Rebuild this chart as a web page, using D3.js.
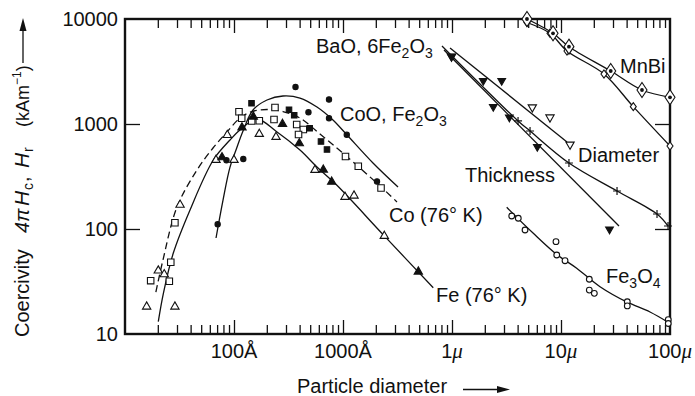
<!DOCTYPE html>
<html><head><meta charset="utf-8">
<script src="https://cdn.jsdelivr.net/npm/d3@7"></script>
<style>
html,body{margin:0;padding:0;background:#fff;}
svg{display:block;}
text{font-family:"Liberation Sans",Arial,sans-serif;fill:#111;}
</style></head><body>
<svg id="chart" width="695" height="396"></svg>
<script>
// ---------- DATA (x: particle diameter in Å, y: coercivity in kA/m) ----------
const xTickValues=[100,1000,1e4,1e5,1e6];
const xTickNums=["100","1000","1","10","100"];
const xTickUnits=["Å","Å","μ","μ","μ"];
const yTickValues=[10,100,1000,10000];
const yTickLabels=["10","100","1000","10000"];

const feCurve=[[20.2,13.1],[22.5,24.4],[27.7,58.7],[39.5,152],[64.6,454],[91.9,704],[113.5,877],[161.5,1116],[246.5,845],[403,565],[574,392],[875,262],[2393,86],[6730,27.6]];
const cooCurve=[[68.4,82.1],[79.3,188.8],[91.9,389],[104.3,565],[121,858],[149.4,1360],[200.8,1693],[281.6,1847],[403,1768],[577,1452],[809,1092],[1089,785],[1884,425],[3197,251]];
const coCurve=[[19.2,25.1],[22.3,50.7],[30.0,162],[45.8,365],[64.2,591],[86.2,839],[113.5,1140],[146.3,1315],[200.8,1374],[281.6,1315],[403,1140],[615,803],[1043,507],[2185,257],[3128,181]];
const baoCurveA=[[9590,5293],[113500,674]];
const baoDiameter=[[8091,5534],[40360,1069],[51990,858],[118300,425],[326600,230],[760000,139],[959000,106.8]];
const baoThickness=[[8450,5070],[340400,106.8]];
const mnbiUpper=[[48750,10000],[84500,7310],[118300,5450],[285800,3197],[553500,2108],[1e6,1796]];
const mnbiLower=[[48750,9260],[79250,7310],[113500,4958],[247900,2995],[460400,1462],[1e6,617]];
const fe3o4Curve=[[31770,161],[55700,91],[91400,57.2],[139300,42.3],[228000,28.2],[400600,20.2],[655600,16.2],[964000,12.9]];

const openTriangles=[[15.8,18.2],[28.7,18.2],[20.2,40.1],[22.9,37.0],[32.0,170],[86.8,785],[68.4,454],[100,454],[170.6,803],[242.9,752],[553,365],[1043,202],[1262,207.6],[2393,85.8]];
const openSquares=[[17.2,32.2],[25.5,31.8],[26.3,48.2],[28.7,114.8],[111.1,1310],[117.7,1133],[145.3,1069],[170.6,1075],[237.7,1436],[232.8,1104],[376,989],[432.5,887],[390.8,794],[1054,490],[1381,396],[2233,245.7]];
const filledCircles=[[70.8,110.9],[85.3,451],[121.7,464],[366.7,2250],[744,1711],[482,1292],[744,1135],[1083,789],[2051,283.5]];
const filledSquares=[[144.8,1575],[319.6,1368],[356.7,1210],[494.6,910],[628,681],[713,572]];
const filledTriangles=[[77.6,481.6],[118.4,926],[150.3,1174],[278.6,1000],[397.2,655],[659.7,367],[787.6,282],[4909,39.2]];
const baoFilledInv=[[9890,4395],[19360,2585],[28580,2585],[23930,1462],[33570,1158],[60650,608],[278600,99.3]];
const baoOpenInv=[[9890,4395],[54550,1443],[79250,1158],[121000,638]];
const baoPlus=[[40360,1069],[51990,858],[118300,425],[326600,230],[760000,139],[959000,106.8]];
const mnbiBig=[[48750,10000],[84500,7310],[118300,5450],[285800,3197],[553500,2108],[1e6,1796]];
const mnbiSmall=[[48750,9260],[79250,7310],[113500,4958],[247900,2995],[460400,1462],[1e6,617]];
const fe3o4Points=[[35300,133],[40560,126.5],[46770,97.8],[89950,75.7],[91400,56.5],[108900,49.9],[181800,33.2],[181800,26.2],[202200,24.4],[405600,20.3],[405600,18.5],[964000,13.7],[964000,12.6]];

// ---------- CHART ----------
const W=695,H=396;
const M={left:125,right:670,top:19,bottom:334};
const svg=d3.select("#chart");
svg.append("rect").attr("width",W).attr("height",H).attr("fill","#fff");
const x=d3.scaleLog().domain([10,1e6]).range([M.left,M.right]);
const y=d3.scaleLog().domain([10,10000]).range([M.bottom,M.top]);
const ink="#111";

// ticks
const allX=x.ticks();
const isPow=v=>Math.abs(Math.log10(v)-Math.round(Math.log10(v)))<1e-9;
const minorX=allX.filter(v=>!isPow(v));
const majorX=[100,1000,1e4,1e5];
function tickAxis(gen,vals,size,tr){
  const g=svg.append("g").attr("transform",tr)
    .call(gen.tickValues(vals).tickSize(size).tickFormat(""));
  g.select(".domain").remove();
  g.selectAll("line").attr("stroke",ink).attr("stroke-width",1.3);
}
tickAxis(d3.axisBottom(x),minorX,-9,`translate(0,${M.bottom})`);
tickAxis(d3.axisBottom(x),majorX,-14,`translate(0,${M.bottom})`);
tickAxis(d3.axisTop(x),minorX,-9,`translate(0,${M.top})`);
tickAxis(d3.axisTop(x),majorX,-14,`translate(0,${M.top})`);
tickAxis(d3.axisLeft(y),[100,1000],-15,`translate(${M.left},0)`);
tickAxis(d3.axisRight(y),[100,1000],-15,`translate(${M.right},0)`);

// frame
svg.append("rect").attr("x",M.left).attr("y",M.top)
  .attr("width",M.right-M.left).attr("height",M.bottom-M.top)
  .attr("fill","none").attr("stroke",ink).attr("stroke-width",2.4);

// tick labels
xTickValues.forEach((v,i)=>{
  const t=svg.append("text").attr("x",x(v)).attr("y",358)
    .attr("text-anchor","middle").attr("font-size",20);
  t.append("tspan").text(xTickNums[i]);
  const u=t.append("tspan").text(xTickUnits[i]);
  if(xTickUnits[i]==="μ") u.attr("font-family","Liberation Serif").attr("font-style","italic").attr("font-size",21);
});
yTickValues.forEach((v,i)=>{
  svg.append("text").attr("x",118).attr("y",y(v)+7)
    .attr("text-anchor","end").attr("font-size",20).text(yTickLabels[i]);
});

// curves
const line=d3.line().x(d=>x(d[0])).y(d=>y(d[1])).curve(d3.curveCatmullRom.alpha(0.5));
function curve(data,dash){
  const p=svg.append("path").datum(data).attr("d",line)
    .attr("fill","none").attr("stroke",ink).attr("stroke-width",1.3);
  if(dash) p.attr("stroke-dasharray",dash);
}
curve(feCurve);
curve(cooCurve);
curve(coCurve,"7,4");
curve(baoCurveA);
curve(baoDiameter);
curve(baoThickness);
curve(mnbiUpper);
curve(mnbiLower);
curve(fe3o4Curve);

// markers
function markers(data,pathStr,fill,rot){
  svg.append("g").selectAll("path").data(data).join("path")
    .attr("d",pathStr)
    .attr("transform",d=>`translate(${x(d[0])},${y(d[1])})${rot?` rotate(${rot})`:""}`)
    .attr("fill",fill?ink:"#fff").attr("stroke",ink).attr("stroke-width",1.1);
}
const tri=d3.symbol(d3.symbolTriangle,30)();
const sq=d3.symbol(d3.symbolSquare,42)();
const fsq=d3.symbol(d3.symbolSquare,30)();
const circ=d3.symbol(d3.symbolCircle,22)();
const bigDia="M0,-7.5L5,0L0,7.5L-5,0Z";
const smallDia="M0,-4L3,0L0,4L-3,0Z";
const ocirc=d3.symbol(d3.symbolCircle,26)();

markers(openTriangles,tri,false);
markers(openSquares,sq,false);
markers(filledCircles,circ,true);
markers(filledSquares,fsq,true);
markers(filledTriangles,tri,true);
markers(baoOpenInv,tri,false,180);
markers(baoFilledInv,d3.symbol(d3.symbolTriangle,26)(),true,180);
svg.append("g").selectAll("path").data(baoPlus).join("path")
  .attr("d","M-4,0H4M0,-4V4")
  .attr("transform",d=>`translate(${x(d[0])},${y(d[1])})`)
  .attr("stroke",ink).attr("stroke-width",1.2);
markers(mnbiSmall,smallDia,false);
markers(mnbiBig,bigDia,false);
svg.append("g").selectAll("circle").data(mnbiBig).join("circle")
  .attr("cx",d=>x(d[0])).attr("cy",d=>y(d[1])).attr("r",1.9).attr("fill",ink);
markers(fe3o4Points,ocirc,false);

// curve labels
function label(xp,yp,parts){
  const t=svg.append("text").attr("x",xp).attr("y",yp).attr("font-size",20);
  let shift=0;
  parts.forEach(p=>{
    const s=t.append("tspan").text(p[0]);
    const want=p[1]?5:0;
    if(want!==shift){s.attr("dy",want-shift);shift=want;}
    if(p[1]) s.attr("font-size",14);
  });
}
label(316,53,[["BaO, 6Fe"],["2",1],["O"],["3",1]]);
label(340,121,[["CoO, Fe"],["2",1],["O"],["3",1]]);
label(389,222,[["Co (76° K)"]]);
label(436,302,[["Fe (76° K)"]]);
label(620,73,[["MnBi"]]);
label(578,162,[["Diameter"]]);
label(465,182,[["Thickness"]]);
label(606,283,[["Fe"],["3",1],["O"],["4",1]]);

// x-axis title
svg.append("text").attr("x",297).attr("y",393).attr("font-size",20).text("Particle diameter");
svg.append("line").attr("x1",463).attr("x2",500).attr("y1",389.5).attr("y2",389.5).attr("stroke",ink).attr("stroke-width",1.3);
svg.append("path").attr("d","M510,389.5L497,386L497,393Z").attr("fill",ink);

// y-axis title (rotated)
const yt=svg.append("g").attr("transform","translate(29,337) rotate(-90)");
yt.append("text").attr("x",0).attr("y",0).attr("font-size",20).text("Coercivity");
yt.append("text").attr("x",104).attr("y",0).attr("font-size",20)
  .attr("font-family","Liberation Serif").attr("font-style","italic").text("4π");
yt.append("text").attr("x",131).attr("y",0).attr("font-size",21)
  .attr("font-family","Liberation Serif").attr("font-style","italic").text("H");
yt.append("text").attr("x",147).attr("y",4).attr("font-size",14).text("c");
yt.append("text").attr("x",155).attr("y",0).attr("font-size",20).text(",");
yt.append("text").attr("x",169).attr("y",0).attr("font-size",21)
  .attr("font-family","Liberation Serif").attr("font-style","italic").text("H");
yt.append("text").attr("x",185).attr("y",4).attr("font-size",14).text("r");
const kt=yt.append("text").attr("x",210).attr("y",0).attr("font-size",18);
kt.append("tspan").text("(kAm");
kt.append("tspan").attr("dy",-8).attr("font-size",12).text("−1");
kt.append("tspan").attr("dy",8).text(")");
svg.append("line").attr("x1",23).attr("x2",23).attr("y1",63).attr("y2",28).attr("stroke",ink).attr("stroke-width",1.3);
svg.append("path").attr("d","M23,18L19.5,31L26.5,31Z").attr("fill",ink);
</script></body></html>
